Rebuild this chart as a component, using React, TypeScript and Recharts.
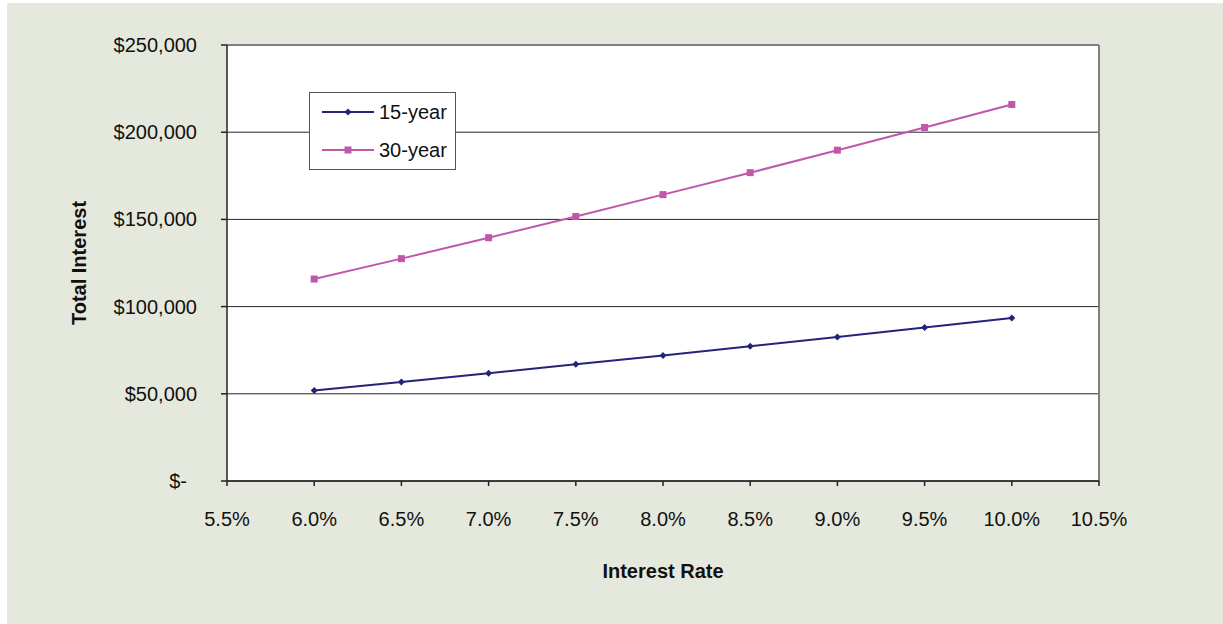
import React from 'react'
import { LineChart, Line, XAxis, YAxis, CartesianGrid, ReferenceLine, Label } from 'recharts'

const rates = [6.0, 6.5, 7.0, 7.5, 8.0, 8.5, 9.0, 9.5, 10.0]
const interest15 = [51900, 56800, 61800, 66900, 72000, 77300, 82600, 88000, 93400]
const interest30 = [115800, 127500, 139500, 151700, 164200, 176800, 189700, 202700, 215900]
const xTicks = [5.5, 6.0, 6.5, 7.0, 7.5, 8.0, 8.5, 9.0, 9.5, 10.0, 10.5]
const yTicks = [0, 50000, 100000, 150000, 200000, 250000]

const data = rates.map((r, i) => ({ rate: r, y15: interest15[i], y30: interest30[i] }))

const color15 = '#25247a'
const color30 = '#c157aa'
const font = 'Arial, "Liberation Sans", sans-serif'

function YTick(props: any) {
  const { x, y, payload } = props
  const v = payload.value
  const text = v === 0 ? '$-' : '$' + v.toLocaleString('en-US')
  return (
    <text x={v === 0 ? x - 10 : x} y={y} dy={7} textAnchor='end' fontSize={20} fill='#111' fontFamily={font}>
      {text}
    </text>
  )
}

function LegendBox() {
  const items = [
    { name: '15-year', color: color15, shape: 'diamond' },
    { name: '30-year', color: color30, shape: 'square' },
  ]
  return (
    <div style={{ position: 'absolute', left: 302, top: 89, width: 147, height: 78, background: '#fff', border: '1px solid #555', boxSizing: 'border-box', fontFamily: font, fontSize: 20, color: '#111', paddingTop: 8 }}>
      {items.map((it) => (
        <div key={it.name} style={{ display: 'flex', alignItems: 'center', height: 22, marginBottom: 16 }}>
          <svg width={54} height={10} style={{ marginLeft: 12, marginRight: 3 }}>
            <line x1={0} y1={5} x2={52} y2={5} stroke={it.color} strokeWidth={2} />
            {it.shape === 'diamond' ? (
              <polygon points='26,1.5 29.5,5 26,8.5 22.5,5' fill={it.color} />
            ) : (
              <rect x={22.5} y={1.5} width={7} height={7} fill={it.color} />
            )}
          </svg>
          <span>{it.name}</span>
        </div>
      ))}
    </div>
  )
}

function Diamond(props: any) {
  const { cx, cy } = props
  return <polygon points={`${cx},${cy - 3.5} ${cx + 3.5},${cy} ${cx},${cy + 3.5} ${cx - 3.5},${cy}`} fill={color15} />
}

function Square(props: any) {
  const { cx, cy } = props
  return <rect x={cx - 3.5} y={cy - 3.5} width={7} height={7} fill={color30} />
}

export default function App() {
  return (
    <div style={{ position: 'fixed', left: 0, top: 0, width: 1223, height: 624, background: '#fff', overflow: 'hidden' }}>
      <div style={{ position: 'absolute', left: 7, top: 3, width: 1216, height: 621, background: '#e5e8dc' }}>
        <LineChart width={1216} height={621} data={data} margin={{ top: 42, right: 124, left: 0, bottom: 0 }}>
          <CartesianGrid vertical={false} stroke='#000' strokeOpacity={0.85} fill='#fff' fillOpacity={1} />
          <XAxis
            dataKey='rate'
            type='number'
            domain={[5.5, 10.5]}
            ticks={xTicks}
            tickFormatter={(v: number) => v.toFixed(1) + '%'}
            height={143}
            tickSize={5}
            tickMargin={26}
            stroke='#222'
            strokeWidth={1.5}
            tick={{ fontSize: 20, fill: '#111', fontFamily: font }}
          >
            <Label value='Interest Rate' position='insideTop' offset={83} style={{ fontSize: 20, fontWeight: 'bold', fill: '#111', fontFamily: font }} />
          </XAxis>
          <YAxis
            type='number'
            domain={[0, 250000]}
            ticks={yTicks}
            width={220}
            tickSize={6}
            tickMargin={24}
            stroke='#222'
            strokeWidth={1.5}
            tick={<YTick />}
          >
            <Label value='Total Interest' angle={-90} position='insideLeft' offset={72} style={{ fontSize: 20, fontWeight: 'bold', fill: '#111', fontFamily: font, textAnchor: 'middle' }} />
          </YAxis>
          <ReferenceLine y={250000} stroke='#808080' strokeWidth={2} />
          <ReferenceLine x={10.5} stroke='#808080' strokeWidth={2} />
          <Line type='linear' dataKey='y15' name='15-year' stroke={color15} strokeWidth={2} dot={<Diamond />} isAnimationActive={false} />
          <Line type='linear' dataKey='y30' name='30-year' stroke={color30} strokeWidth={2} dot={<Square />} isAnimationActive={false} />
        </LineChart>
        <LegendBox />
      </div>
    </div>
  )
}
